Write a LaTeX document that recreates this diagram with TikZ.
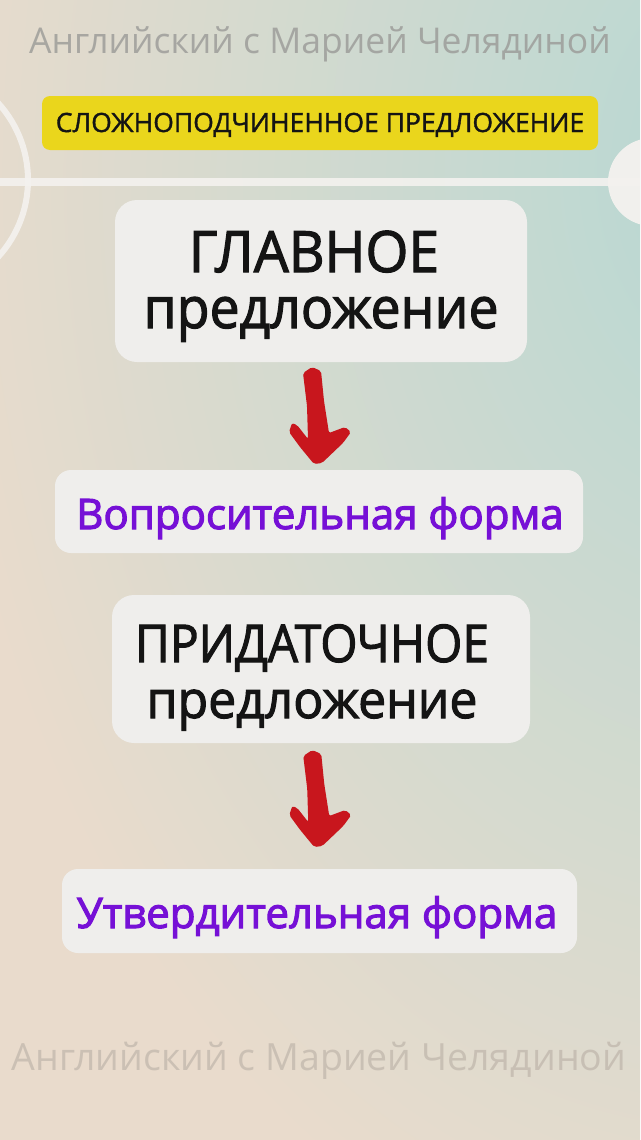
\documentclass[tikz,border=0pt]{standalone}
\usepackage{fontspec}
\setmainfont{Open Sans}
\newfontfamily\semifont[FakeBold=2.6]{Open Sans}
\newfontfamily\medfont[FakeBold=2.0]{Open Sans}
\newfontfamily\titlefont[FakeBold=1.4]{Open Sans}
\usetikzlibrary{calc}
\definecolor{bgpeach}{HTML}{E9DBCC}
\definecolor{bgteal}{HTML}{B7D8D3}
\definecolor{boxfill}{HTML}{EFEEEC}
\definecolor{yel}{HTML}{EAD61C}
\definecolor{purp}{HTML}{7610D6}
\definecolor{arrred}{HTML}{C8161D}
\definecolor{txt}{HTML}{141414}
\definecolor{wmgrey}{HTML}{9A9A97}
\definecolor{wmlight}{HTML}{B8AEA4}
\definecolor{deco}{HTML}{F4F2EF}
\begin{document}
\begin{tikzpicture}[x=1pt,y=-1pt,
  card/.style={draw=none, fill=boxfill, rounded corners=22pt, inner sep=0pt},
  bigtxt/.style={text=txt, inner sep=0pt, font=\medfont\fontsize{57}{57}\selectfont},
  midtxt/.style={text=txt, inner sep=0pt, font=\medfont\fontsize{52}{52}\selectfont},
  purptxt/.style={text=purp, inner sep=0pt, font=\semifont\fontsize{42}{42}\selectfont},
  wmark/.style={inner sep=0pt, font=\fontsize{35.5}{35.5}\selectfont},
  redarrow/.pic={\fill[arrred, rounded corners=2pt]
    (-17,-43) -- (-8,-49) -- (1,-45) -- (4,-15) -- (9,17) -- (25,11) -- (31,16) -- (23,27)
    -- (2,47) -- (-6,48) -- (-20,31) -- (-31,16) -- (-28,7) -- (-23,9) -- (-12,23) -- (-13,-10) -- cycle;}
]
\useasboundingbox (0,0) rectangle (640,1140);
% background
\fill[bgpeach] (0,0) rectangle (640,1140);
\begin{scope}
  \clip (0,0) rectangle (640,1140);
  \shade[inner color=bgteal, outer color=bgpeach] (730,170) ellipse [x radius=800, y radius=1150];
  % decoration: line, ring, disc
  \draw[deco, line width=8pt, opacity=0.9] (0,182) -- (640,182);
  \draw[deco, line width=6pt, opacity=0.9] (-86,180) circle (114);
  \fill[deco, opacity=0.95] (652,182) circle (44);
\end{scope}
% watermarks
\node[wmark, text=wmgrey, text opacity=0.8, anchor=base] (wmtop) at (320,54) {Английский с Марией Челядиной};
\node[wmark, text=wmlight, text opacity=0.6, anchor=base, font=\fontsize{37.5}{37.5}\selectfont] (wmbot) at (319,1070) {Английский с Марией Челядиной};
% title
\node[fill=yel, rounded corners=8pt, minimum width=556pt, minimum height=54pt, inner sep=0pt] (title) at (320,123) {};
\node[text=txt, inner sep=0pt, anchor=base, font=\titlefont\fontsize{26.5}{26.5}\selectfont] (titletxt) at (320,132) {СЛОЖНОПОДЧИНЕННОЕ ПРЕДЛОЖЕНИЕ};
% box 1
\node[card, minimum width=412pt, minimum height=162pt] (b1) at (321,281) {};
\node[bigtxt, anchor=base, xscale=0.97] (b1a) at (314,272) {ГЛАВНОЕ};
\node[bigtxt, anchor=base, xscale=0.94] (b1b) at (321,328) {предложение};
% box 2
\node[card, rounded corners=16pt, minimum width=528pt, minimum height=83pt] (b2) at (319,511.5) {};
\node[purptxt, anchor=base] (b2t) at (320,529) {Вопросительная форма};
% box 3
\node[card, minimum width=418pt, minimum height=148pt] (b3) at (321,669) {};
\node[midtxt, anchor=base, xscale=0.92] (b3a) at (312,662) {ПРИДАТОЧНОЕ};
\node[midtxt, anchor=base, xscale=0.96] (b3b) at (312,718) {предложение};
% box 4
\node[card, rounded corners=16pt, minimum width=515pt, minimum height=84pt] (b4) at (319.5,911) {};
\node[purptxt, anchor=base] (b4t) at (317,928) {Утвердительная форма};
% arrows
\pic at ($(b1.south)!0.5!(b2.north)$) {redarrow};
\pic at ($(b3.south)!0.5!(b4.north)+(0,-7)$) {redarrow};
\end{tikzpicture}
\end{document}
